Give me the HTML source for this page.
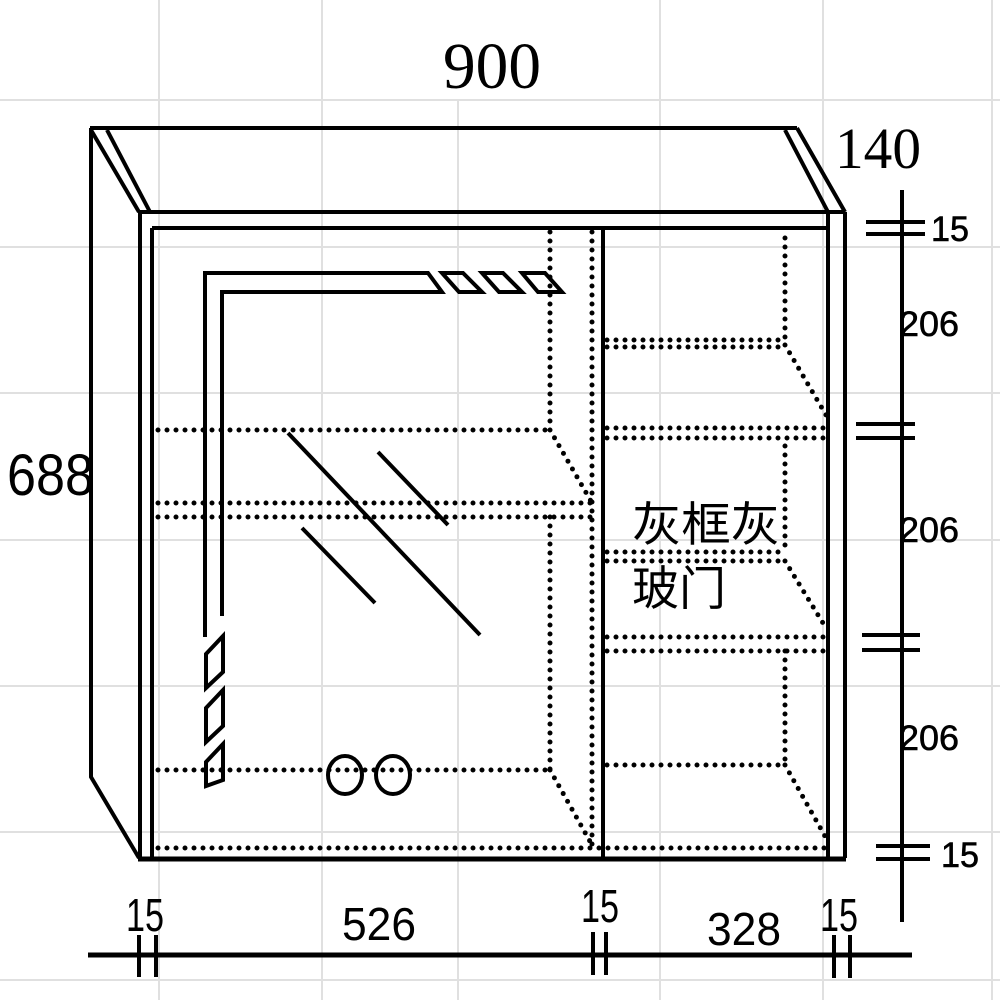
<!DOCTYPE html>
<html><head><meta charset="utf-8"><style>
html,body{margin:0;padding:0;background:#fff;}
svg{display:block;}
</style></head><body>
<svg width="1000" height="1000" viewBox="0 0 1000 1000" xmlns="http://www.w3.org/2000/svg">
<g stroke="#e0e0e0" stroke-width="2">
<line x1="0" y1="100" x2="1000" y2="100"/>
<line x1="0" y1="247" x2="1000" y2="247"/>
<line x1="0" y1="393" x2="1000" y2="393"/>
<line x1="0" y1="540" x2="1000" y2="540"/>
<line x1="0" y1="686" x2="1000" y2="686"/>
<line x1="0" y1="832" x2="1000" y2="832"/>
<line x1="0" y1="980" x2="1000" y2="980"/>
<line x1="159" y1="0" x2="159" y2="1000"/>
<line x1="322" y1="0" x2="322" y2="1000"/>
<line x1="458" y1="100" x2="458" y2="1000"/>
<line x1="660" y1="0" x2="660" y2="1000"/>
<line x1="823" y1="0" x2="823" y2="1000"/>
<line x1="992" y1="0" x2="992" y2="1000"/>
</g>
<g stroke="#000" stroke-width="4" fill="none" stroke-linejoin="miter">
<line x1="90" y1="128" x2="797" y2="128"/>
<polyline points="91,128 91,777 139,858"/>
<line x1="91" y1="130" x2="139" y2="212"/>
<line x1="107" y1="130" x2="150" y2="212"/>
<line x1="785" y1="130" x2="828" y2="212"/>
<line x1="797" y1="128" x2="845" y2="212"/>
<line x1="139" y1="212" x2="845" y2="212"/>
<line x1="152" y1="228" x2="828" y2="228"/>
<line x1="140" y1="212" x2="140" y2="858"/>
<line x1="152" y1="228" x2="152" y2="858"/>
<line x1="828" y1="212" x2="828" y2="858"/>
<line x1="845" y1="212" x2="845" y2="858"/>
<line x1="138" y1="859" x2="846" y2="859" stroke-width="5"/>
<line x1="603" y1="228" x2="603" y2="858"/>
<polyline points="205,637 205,273 428,273 442,292 222,292 222,616"/>
<polygon points="442,273 463,273 482,292 459,292"/>
<polygon points="482,273 503,273 522,292 499,292"/>
<polygon points="522,273 545,273 562,292 538,292"/>
<polygon points="206,654 223,636 223,672 206,688"/>
<polygon points="206,708 223,690 223,726 206,742"/>
<polygon points="206,762 223,744 223,780 206,786"/>
<line x1="288" y1="433" x2="480" y2="635"/>
<line x1="378" y1="452" x2="448" y2="525"/>
<line x1="302" y1="528" x2="375" y2="603"/>
<ellipse cx="345" cy="775" rx="17" ry="19"/>
<ellipse cx="393" cy="775" rx="17" ry="19"/>
<line x1="902" y1="190" x2="902" y2="922"/>
<line x1="866" y1="222" x2="925" y2="222"/>
<line x1="866" y1="234" x2="925" y2="234"/>
<line x1="856" y1="424" x2="915" y2="424"/>
<line x1="856" y1="438" x2="915" y2="438"/>
<line x1="862" y1="635" x2="920" y2="635"/>
<line x1="862" y1="650" x2="920" y2="650"/>
<line x1="876" y1="846" x2="930" y2="846"/>
<line x1="876" y1="859" x2="930" y2="859"/>
<line x1="88" y1="955" x2="912" y2="955" stroke-width="5"/>
<line x1="139" y1="935" x2="139" y2="977"/>
<line x1="156" y1="935" x2="156" y2="977"/>
<line x1="593" y1="932" x2="593" y2="975"/>
<line x1="606" y1="932" x2="606" y2="975"/>
<line x1="834" y1="935" x2="834" y2="978"/>
<line x1="850" y1="935" x2="850" y2="978"/>
</g>
<g stroke="#000" stroke-width="5" fill="none" stroke-linecap="round" stroke-dasharray="0 9">
<line x1="550" y1="232" x2="550" y2="430"/>
<line x1="592" y1="232" x2="592" y2="848"/>
<line x1="158" y1="430" x2="550" y2="430"/>
<line x1="550" y1="430" x2="592" y2="503"/>
<line x1="158" y1="503" x2="592" y2="503"/>
<line x1="158" y1="517" x2="592" y2="517"/>
<line x1="550" y1="517" x2="550" y2="770"/>
<line x1="158" y1="770" x2="550" y2="770"/>
<line x1="550" y1="770" x2="592" y2="845"/>
<line x1="158" y1="848" x2="826" y2="848"/>
<line x1="785" y1="238" x2="785" y2="340"/>
<line x1="607" y1="340" x2="785" y2="340"/>
<line x1="607" y1="347" x2="785" y2="347"/>
<line x1="785" y1="345" x2="826" y2="415"/>
<line x1="607" y1="428" x2="826" y2="428"/>
<line x1="607" y1="438" x2="826" y2="438"/>
<line x1="785" y1="446" x2="785" y2="553"/>
<line x1="607" y1="552" x2="785" y2="552"/>
<line x1="607" y1="561" x2="785" y2="561"/>
<line x1="785" y1="561" x2="826" y2="628"/>
<line x1="607" y1="637" x2="826" y2="637"/>
<line x1="607" y1="651" x2="826" y2="651"/>
<line x1="785" y1="651" x2="785" y2="765"/>
<line x1="607" y1="765" x2="785" y2="765"/>
<line x1="785" y1="765" x2="826" y2="838"/>
</g>
<g fill="#000">
<text x="443" y="88" font-family="Liberation Serif, serif" font-size="66" textLength="98" lengthAdjust="spacingAndGlyphs">900</text>
<text x="835" y="168" font-family="Liberation Serif, serif" font-size="58" textLength="86" lengthAdjust="spacingAndGlyphs">140</text>
<text x="7" y="495" font-family="Liberation Sans, sans-serif" font-size="58" textLength="87" lengthAdjust="spacingAndGlyphs">688</text>
<g font-family="Liberation Sans, sans-serif" font-size="35" stroke="#000" stroke-width="0.6">
<text x="931" y="241" textLength="38" lengthAdjust="spacingAndGlyphs">15</text>
<text x="899" y="336" textLength="60" lengthAdjust="spacingAndGlyphs">206</text>
<text x="899" y="542" textLength="60" lengthAdjust="spacingAndGlyphs">206</text>
<text x="899" y="750" textLength="60" lengthAdjust="spacingAndGlyphs">206</text>
<text x="941" y="867" textLength="38" lengthAdjust="spacingAndGlyphs">15</text>
</g>
<g font-family="Liberation Sans, sans-serif" font-size="46">
<text x="126" y="931" textLength="38" lengthAdjust="spacingAndGlyphs">15</text>
<text x="342" y="940" textLength="74" lengthAdjust="spacingAndGlyphs">526</text>
<text x="581" y="922" textLength="38" lengthAdjust="spacingAndGlyphs">15</text>
<text x="707" y="945" textLength="74" lengthAdjust="spacingAndGlyphs">328</text>
<text x="820" y="931" textLength="38" lengthAdjust="spacingAndGlyphs">15</text>
</g>
<g font-family="Liberation Sans, 'Noto Sans CJK SC', sans-serif" font-size="47">
<text x="632" y="541" textLength="148" lengthAdjust="spacingAndGlyphs">灰框灰</text>
<text x="632" y="605">玻门</text>
</g>
</g>
</svg>
</body></html>
